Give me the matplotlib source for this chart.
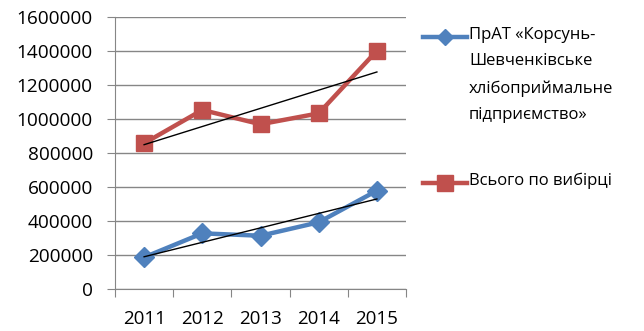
import numpy as np
import matplotlib.pyplot as plt
from matplotlib.lines import Line2D

plt.rcParams['font.family'] = ['Open Sans', 'DejaVu Sans']

# data
years = ['2011', '2012', '2013', '2014', '2015']
korsun = [186000, 327000, 313000, 392000, 578000]
total = [856000, 1052000, 968000, 1032000, 1400000]
label_korsun = 'ПрАТ «Корсунь-\nШевченківське\nхлібоприймальне\nпідприємство»'
label_total = 'Всього по вибірці'

blue = '#4F81BD'
red = '#C0504D'
grid_c = '#868686'

fig = plt.figure(figsize=(6.44, 3.31), dpi=100)
ax = fig.add_axes([115 / 644, 1 - 289 / 331, 291 / 644, (289 - 16.7) / 331])

x = np.arange(len(years)) + 0.5

ax.plot(x, korsun, '-D', color=blue, lw=3.2, ms=10, zorder=3)
ax.plot(x, total, '-s', color=red, lw=3.2, ms=12, zorder=3)

# linear trend lines
for vals in (korsun, total):
    k, b = np.polyfit(x, vals, 1)
    ax.plot(x, k * x + b, color='black', lw=1, zorder=4)

ax.set_xlim(0, len(years))
ax.set_ylim(0, 1600000)
ax.set_yticks(np.arange(0, 1600001, 200000))
ax.set_yticklabels([str(v) for v in range(0, 1600001, 200000)])
ax.set_xticks(np.arange(len(years) + 1))
ax.set_xticklabels([])
ax.set_xticks(x, minor=True)
ax.set_xticklabels(years, minor=True)
ax.tick_params(axis='x', which='minor', length=0, pad=15, labelsize=13.5)
ax.tick_params(axis='x', which='major', length=6, color=grid_c)
ax.tick_params(axis='y', length=6, color=grid_c, pad=10, labelsize=13.7)

ax.yaxis.grid(True, color=grid_c, lw=1)
ax.set_axisbelow(True)
for s in ('top', 'right'):
    ax.spines[s].set_visible(False)
for s in ('left', 'bottom'):
    ax.spines[s].set_color(grid_c)

# legend drawn by hand so the marker sits on the first text line
def legend_entry(y_px, color, marker, ms, text):
    yf = 1 - y_px / 331
    fig.add_artist(Line2D([423 / 644, 467 / 644], [yf, yf], color=color, lw=3.2,
                          transform=fig.transFigure))
    fig.add_artist(Line2D([445 / 644], [yf], color=color, marker=marker, ms=ms,
                          transform=fig.transFigure))
    fig.text(469 / 644, yf + 10 / 331, text, ha='left', va='top', fontsize=12,
             linespacing=1.87)

legend_entry(37, blue, 'D', 8, label_korsun)
legend_entry(183, red, 's', 11, label_total)

fig.savefig('out.png', dpi=100)
